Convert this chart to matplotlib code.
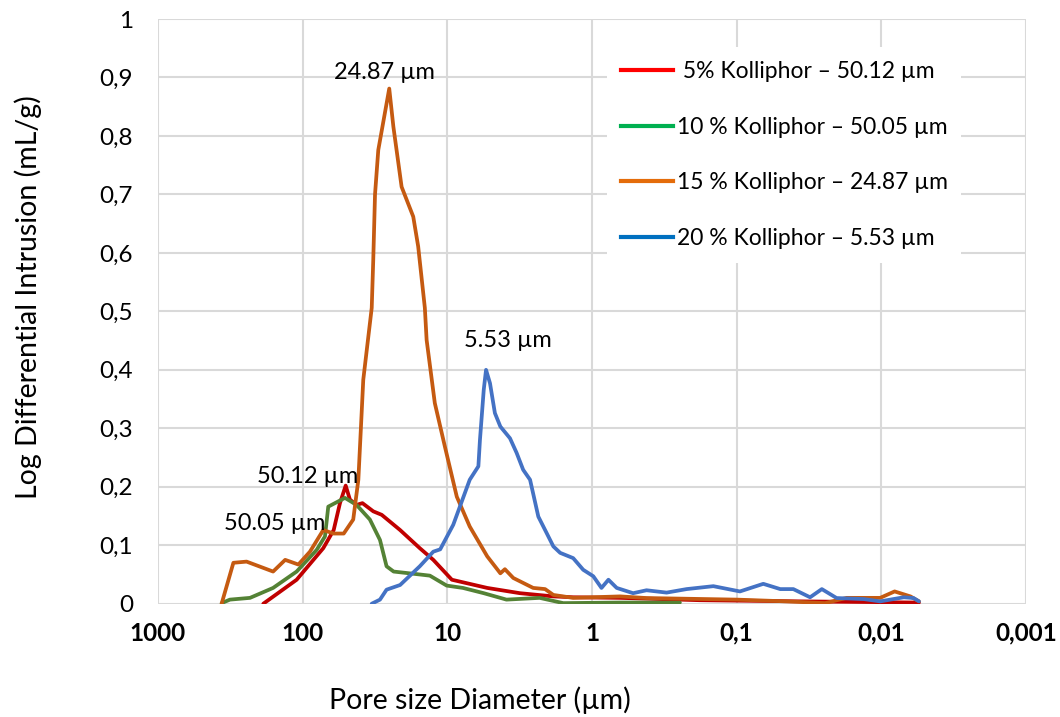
import numpy as np
import matplotlib
matplotlib.use("Agg")
import matplotlib.pyplot as plt
from matplotlib.lines import Line2D
from matplotlib.ticker import FixedLocator, FixedFormatter

plt.rcParams['font.family'] = ['Lato', 'DejaVu Sans']

# pore diameter (µm) and log differential intrusion (mL/g)
d_5 = [187, 110, 72, 61, 55.2, 50.4, 47.1, 42.4, 38.6, 32.5, 28.4, 21.2, 15.5,
       12.5, 9.3, 5.3, 3.15, 1.85, 1.35, 0.64, 0.18, 0.036, 0.0055]
v_5 = [0, 0.041, 0.095, 0.126, 0.172, 0.202, 0.178, 0.169, 0.172, 0.158, 0.152,
       0.126, 0.095, 0.075, 0.041, 0.027, 0.018, 0.0125, 0.011, 0.01, 0.006,
       0.004, 0.002]

d_10 = [363, 318, 231, 160, 110, 80, 70.1, 66.5, 51, 42.4, 34.3, 29.2, 26.3,
        23.5, 15.5, 13.2, 10.1, 7.8, 5.6, 3.9, 2.3, 1.58, 0.64, 0.247]
v_10 = [0.001, 0.007, 0.01, 0.027, 0.055, 0.092, 0.115, 0.166, 0.181, 0.169,
        0.144, 0.109, 0.064, 0.055, 0.05, 0.048, 0.031, 0.027, 0.018, 0.007,
        0.01, 0.001, 0.002, 0.002]

d_15 = [363, 301, 244, 160, 132, 107, 89, 72, 61, 52, 44.7, 41.2, 39.1, 38.1,
        33.3, 32.5, 31.6, 30.0, 25.2, 23.6, 20.7, 17.2, 15.9, 14.3, 13.9, 12.2,
        10.4, 8.6, 7.0, 5.3, 4.3, 4.0, 3.5, 2.55, 2.11, 1.85, 1.35, 0.64, 0.42,
        0.1, 0.045, 0.0245, 0.0174, 0.0102, 0.0081, 0.0063, 0.0055]
v_15 = [0, 0.07, 0.072, 0.055, 0.075, 0.067, 0.089, 0.126, 0.12, 0.12, 0.144,
        0.212, 0.326, 0.383, 0.506, 0.588, 0.70, 0.776, 0.881, 0.816, 0.713,
        0.662, 0.611, 0.506, 0.451, 0.343, 0.269, 0.183, 0.132, 0.081, 0.052,
        0.059, 0.044, 0.027, 0.025, 0.015, 0.010, 0.0125, 0.0097, 0.007, 0.004,
        0.001, 0.010, 0.010, 0.021, 0.0125, 0.004]

d_20 = [33.3, 29.2, 26.3, 21.2, 15.5, 12.5, 11.2, 9.1, 7.0, 6.1, 5.95, 5.6, 5.4,
        5.07, 4.69, 4.3, 3.69, 3.32, 2.99, 2.68, 2.35, 2.06, 1.85, 1.66, 1.35,
        1.15, 0.98, 0.86, 0.77, 0.675, 0.52, 0.42, 0.305, 0.222, 0.145, 0.095,
        0.0655, 0.050, 0.0406, 0.0311, 0.0258, 0.0204, 0.0133, 0.0102, 0.0070,
        0.0060, 0.0055]
v_20 = [0, 0.007, 0.024, 0.032, 0.064, 0.089, 0.093, 0.135, 0.212, 0.235, 0.28,
        0.366, 0.40, 0.377, 0.326, 0.303, 0.283, 0.258, 0.229, 0.212, 0.149,
        0.121, 0.098, 0.087, 0.078, 0.058, 0.047, 0.027, 0.041, 0.027, 0.018,
        0.023, 0.019, 0.025, 0.030, 0.021, 0.034, 0.025, 0.025, 0.011, 0.025,
        0.0097, 0.008, 0.004, 0.011, 0.0097, 0.004]

labels = [' 5% Kolliphor \u2013 50.12 \u00b5m', '10 % Kolliphor \u2013 50.05 \u00b5m',
          '15 % Kolliphor \u2013 24.87 \u00b5m', '20 % Kolliphor \u2013 5.53 \u00b5m']
line_colors = ['#C00000', '#548235', '#C55A11', '#4472C4']
legend_colors = ['#FF0000', '#00B050', '#E46C0A', '#0070C0']

x_ticks = [1000, 100, 10, 1, 0.1, 0.01, 0.001]
x_ticklabels = ['1000', '100', '10', '1', '0,1', '0,01', '0,001']
y_ticks = [0, 0.1, 0.2, 0.3, 0.4, 0.5, 0.6, 0.7, 0.8, 0.9, 1.0]
y_ticklabels = ['0', '0,1', '0,2', '0,3', '0,4', '0,5', '0,6', '0,7', '0,8', '0,9', '1']

fig = plt.figure(figsize=(10.6, 7.17), dpi=100)
ax = fig.add_axes([0.149, 0.158, 0.819, 0.8155])

for d, v, c in zip([d_5, d_10, d_15, d_20], [v_5, v_10, v_15, v_20], line_colors):
    ax.plot(d, v, color=c, lw=2.7, solid_joinstyle='round', solid_capstyle='round', zorder=3)

ax.set_xscale('log')
ax.set_xlim(1000, 0.001)
ax.set_ylim(0, 1)
ax.xaxis.set_major_locator(FixedLocator(x_ticks))
ax.xaxis.set_major_formatter(FixedFormatter(x_ticklabels))
ax.xaxis.set_minor_locator(FixedLocator([]))
ax.set_yticks(y_ticks)
ax.set_yticklabels(y_ticklabels)
ax.tick_params(axis='both', length=0, labelsize=17.5, colors='black')
ax.tick_params(axis='x', pad=13)
ax.tick_params(axis='y', pad=18)
for t in ax.get_xticklabels():
    t.set_fontweight('bold')

ax.grid(True, color='#D9D9D9', lw=1.5, zorder=0)
ax.set_axisbelow(True)
for s in ax.spines.values():
    s.set_visible(False)

ax.set_xlabel('Pore size Diameter (\u00b5m)', fontsize=20.5)
ax.set_ylabel('Log Differential Intrusion (mL/g)', fontsize=20.5)
ax.xaxis.set_label_coords(0.371, -0.141)
ax.yaxis.set_label_coords(-0.134, 0.525)

ax.text(27, 0.909, '24.87 \u00b5m', fontsize=17, ha='center', va='center', zorder=4)
ax.text(3.8, 0.451, '5.53 \u00b5m', fontsize=17, ha='center', va='center', zorder=4)
ax.text(93, 0.217, '50.12 \u00b5m', fontsize=17, ha='center', va='center', zorder=4)
ax.text(155, 0.138, '50.05 \u00b5m', fontsize=17, ha='center', va='center', zorder=4)

handles = [Line2D([0], [0], color=c, lw=3) for c in legend_colors]
leg = ax.legend(handles, labels, loc='upper left', bbox_to_anchor=(0.517, 0.952),
                fontsize=16.5, frameon=True, facecolor='white', edgecolor='none',
                framealpha=1, fancybox=False, handlelength=2.3, handletextpad=0.15,
                labelspacing=1.52, borderpad=0.6, borderaxespad=0)
leg.set_zorder(5)

fig.savefig('out.png', dpi=100)
